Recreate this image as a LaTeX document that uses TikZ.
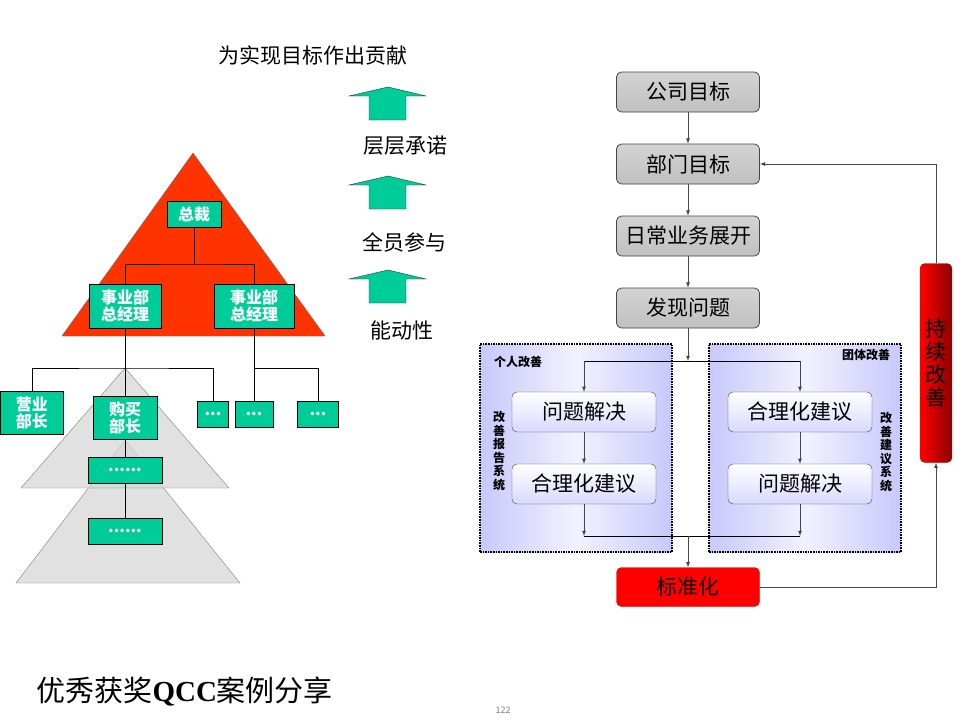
\documentclass[tikz,border=0pt]{standalone}
\usepackage{fontspec}
\setmainfont{Noto Sans CJK SC}
\newfontfamily\qccfont{Liberation Serif}
\usepackage{tikz}
\usetikzlibrary{calc}
\usetikzlibrary{arrows}
\usetikzlibrary{positioning}
\definecolor{jade}{RGB}{0, 204, 153}
\definecolor{vermilion}{RGB}{255, 51, 0}
\definecolor{lavender}{RGB}{200, 200, 252}
\definecolor{silver}{RGB}{192, 192, 192}
\definecolor{ashgray}{RGB}{215, 215, 215}
\definecolor{inkgray}{RGB}{70, 70, 70}
\newcommand{\fsz}[2]{\fontsize{#1}{#2}\selectfont}

\begin{document}
\begin{tikzpicture}[x=1pt, y=-1pt,
    orgbox/.style   ={draw=black, fill=jade, text=white, align=center, inner sep=0pt,
                      font=\bfseries\fsz{16}{17}},
    goalbox/.style  ={draw=inkgray, thick, rounded corners=5pt, top color=silver!70, bottom color=silver,
                      minimum width=143, minimum height=40, inner sep=0pt, font=\fsz{21}{22}},
    stepbox/.style  ={draw=inkgray, rounded corners=5pt, top color=white, bottom color=lavender!70,
                      minimum width=144, minimum height=40, inner sep=0pt, font=\fsz{21}{22}},
    panel/.style    ={draw=black, line width=1.6pt, densely dotted, left color=lavender, right color=lavender,
                      middle color=lavender!25, minimum width=192, minimum height=208, inner sep=0pt},
    flowarrow/.style={-latex, draw=inkgray, thick},
    flowline/.style ={draw=black},
    uparrow/.style  ={fill=jade, draw=black!80},
    tag/.style      ={font=\bfseries\fsz{12}{13.5}, align=center, inner sep=0pt}]
\useasboundingbox[fill=white] (0,0) rectangle (960,720);

% pyramids
\filldraw[fill=vermilion, draw=black!60] (193,153) -- (325,336) -- (62,336) -- cycle;
\filldraw[fill=ashgray, fill opacity=0.75, draw=gray] (125,440) -- (240,583) -- (16,583) -- cycle;
\filldraw[fill=ashgray, fill opacity=0.75, draw=gray] (125,368) -- (229,488) -- (21,488) -- cycle;

% organisation
\node[orgbox, minimum width=54, minimum height=26] (ceo)   at (194,214) {总裁};
\node[orgbox, minimum width=72, minimum height=44] (gmA)   at (125,306) {事业部\\总经理};
\node[orgbox, minimum width=80, minimum height=44] (gmB)   at (254,306) {事业部\\总经理};
\node[orgbox, minimum width=63, minimum height=43] (sales) at (32,413)  {营业\\部长};
\node[orgbox, minimum width=64, minimum height=43] (buy)   at (125,418) {购买\\部长};
\node[orgbox, minimum width=31, minimum height=26] (moreA) at (213,414) {...};
\node[orgbox, minimum width=38, minimum height=26] (moreB) at (254,414) {...};
\node[orgbox, minimum width=41, minimum height=26] (moreC) at (318,414) {...};
\node[orgbox, minimum width=74, minimum height=26] (subA)  at (125,470) {......};
\node[orgbox, minimum width=74, minimum height=26] (subB)  at (125,531) {......};

\coordinate (ceojoint) at (ceo.south |- 0,264);
\coordinate (gmjoint)  at (gmA.south |- 0,368);
\coordinate (gmBjoint) at (gmB.south |- gmjoint);
\draw (ceo.south) -- (ceojoint);
\draw (gmA.north) |- (ceojoint) -| (gmB.north);
\draw (gmA.south) -- (gmjoint);
\draw (sales.north) |- (gmjoint) -| (moreA.north);
\draw (gmjoint) -- (buy.north);
\draw (buy.south) -- (subA.north);
\draw (subA.south) -- (subB.north);
\draw (gmB.south) -- (moreB.north);
\draw (gmBjoint) -| (moreC.north);

% commitments
\foreach \t in {87,176,270}
  \filldraw[uparrow] (388,\t) -- (426,\t+9) -- (406,\t+9) -- (406,\t+33)
                     -- (369,\t+33) -- (369,\t+9) -- (349,\t+9) -- cycle;
\node[font=\fsz{21}{22}] (aim)    at (313,55)  {为实现目标作出贡献};
\node[font=\fsz{21}{22}] (promise) at (405,146) {层层承诺};
\node[font=\fsz{21}{22}] (allin)  at (404,242) {全员参与};
\node[font=\fsz{21}{22}] (active) at (402,330) {能动性};

% improvement flow
\node[panel] (solo) at (576,448) {};
\node[panel] (team) at (805,448) {};
\node[tag] (soloname) at (518,362) {个人改善};
\node[tag] (teamname) at (866,355) {团体改善};
\node[tag] (solosys)  at (499,451) {改\\善\\报\\告\\系\\统};
\node[tag] (teamsys)  at (886,452) {改\\善\\建\\议\\系\\统};

\node[goalbox] (corp)  at (688,92)  {公司目标};
\node[goalbox] (dept)  at (688,164) {部门目标};
\node[goalbox] (daily) at (688,236) {日常业务展开};
\node[goalbox] (find)  at (688,308) {发现问题};
\node[stepbox] (soloA) at (584,412) {问题解决};
\node[stepbox] (soloB) at (584,484) {合理化建议};
\node[stepbox] (teamA) at (800,412) {合理化建议};
\node[stepbox] (teamB) at (800,484) {问题解决};
\node[draw=red!85!black, fill=red, rounded corners=5pt, minimum width=143, minimum height=39,
      inner sep=0pt, font=\fsz{21}{22}] (norm) at (688,587) {标准化};
\node[draw=red!70!black, rounded corners=5pt, left color=red, right color=red!55!black,
      minimum width=32, minimum height=199, inner sep=0pt, align=center,
      font=\fsz{21}{23}] (keep) at (936,363) {持\\续\\改\\善};

\coordinate (split)  at (688,361);
\coordinate (splitA) at (soloA.north |- split);
\coordinate (splitB) at (teamA.north |- split);
\coordinate (merge)  at (688,536);
\coordinate (mergeA) at (soloB.south |- merge);
\coordinate (mergeB) at (teamB.south |- merge);

\draw[flowarrow] (corp) -- (dept);
\draw[flowarrow] (dept) -- (daily);
\draw[flowarrow] (daily) -- (find);
\draw[flowarrow] (find) -- (split);
\draw[flowline] (splitA) -- (splitB);
\draw[flowarrow] (splitA) -- (soloA);
\draw[flowarrow] (splitB) -- (teamA);
\draw[flowarrow] (soloA) -- (soloB);
\draw[flowarrow] (teamA) -- (teamB);
\draw[flowarrow] (soloB) -- (mergeA);
\draw[flowarrow] (teamB) -- (mergeB);
\draw[flowline] (mergeA) -- (mergeB);
\draw[flowarrow] (merge) -- (norm);
\draw[flowarrow] (norm.east) -| (keep.south);
\draw[flowarrow] (keep.north) |- (dept.east);

% footer
\node[anchor=west, font=\fsz{29}{30}] (title) at (33,692) {优秀获奖{\qccfont\bfseries QCC}案例分享};
\node[font=\fsz{9}{10}, text=gray] (page) at (503,710) {122};
\end{tikzpicture}
\end{document}
